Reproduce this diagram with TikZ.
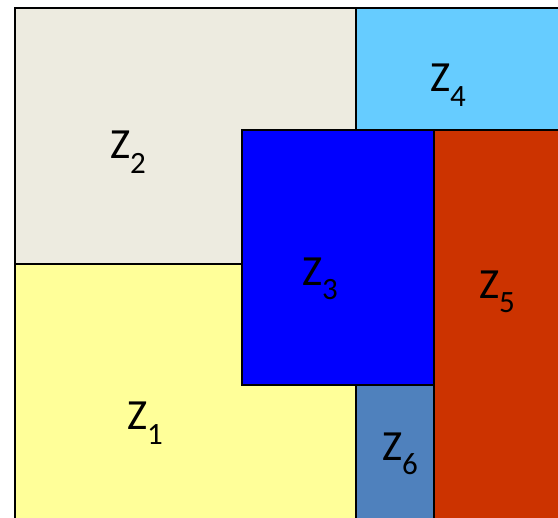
\documentclass[tikz,border=0pt]{standalone}
\usepackage{fontspec}
\setmainfont{Carlito}
\usetikzlibrary{positioning}
\definecolor{zbeige}{HTML}{EDEBE0}
\definecolor{zsky}{HTML}{66CCFF}
\definecolor{zblue}{HTML}{0000FF}
\definecolor{zred}{HTML}{CC3300}
\definecolor{zsteel}{HTML}{4F81BD}
\definecolor{zyellow}{HTML}{FFFF99}
\newcommand{\zone}[1]{Z\raisebox{-0.34em}{\fontsize{31}{31}\selectfont #1}}
\begin{document}
\begin{tikzpicture}[
  x=1pt, y=-1pt,
  font=\fontsize{43}{43}\selectfont,
  zonebox/.style={draw=black, line width=1.6pt},
  lbl/.style={inner sep=0pt, anchor=center}]
\useasboundingbox (0,0) rectangle (558,518);
\clip (0,0) rectangle (558,518);
% zones
\filldraw[zonebox, fill=zbeige] (15,8) rectangle (356,264);
\filldraw[zonebox, fill=zsky] (356,8) rectangle (570,130);
\filldraw[zonebox, fill=zyellow] (15,264) rectangle (356,530);
\filldraw[zonebox, fill=zsteel] (356,385) rectangle (434,530);
\filldraw[zonebox, fill=zred] (434,130) rectangle (570,530);
\filldraw[zonebox, fill=zblue] (242,130) rectangle (434,385);
% labels
\node[lbl] (z2) at (128,152) {\zone{2}};
\node[lbl] (z4) at (448,85) {\zone{4}};
\node[lbl] (z3) at (320,279) {\zone{3}};
\node[lbl] (z5) at (497,292) {\zone{5}};
\node[lbl] (z1) at (145,423) {\zone{1}};
\node[lbl] (z6) at (400,454) {\zone{6}};
\end{tikzpicture}
\end{document}
